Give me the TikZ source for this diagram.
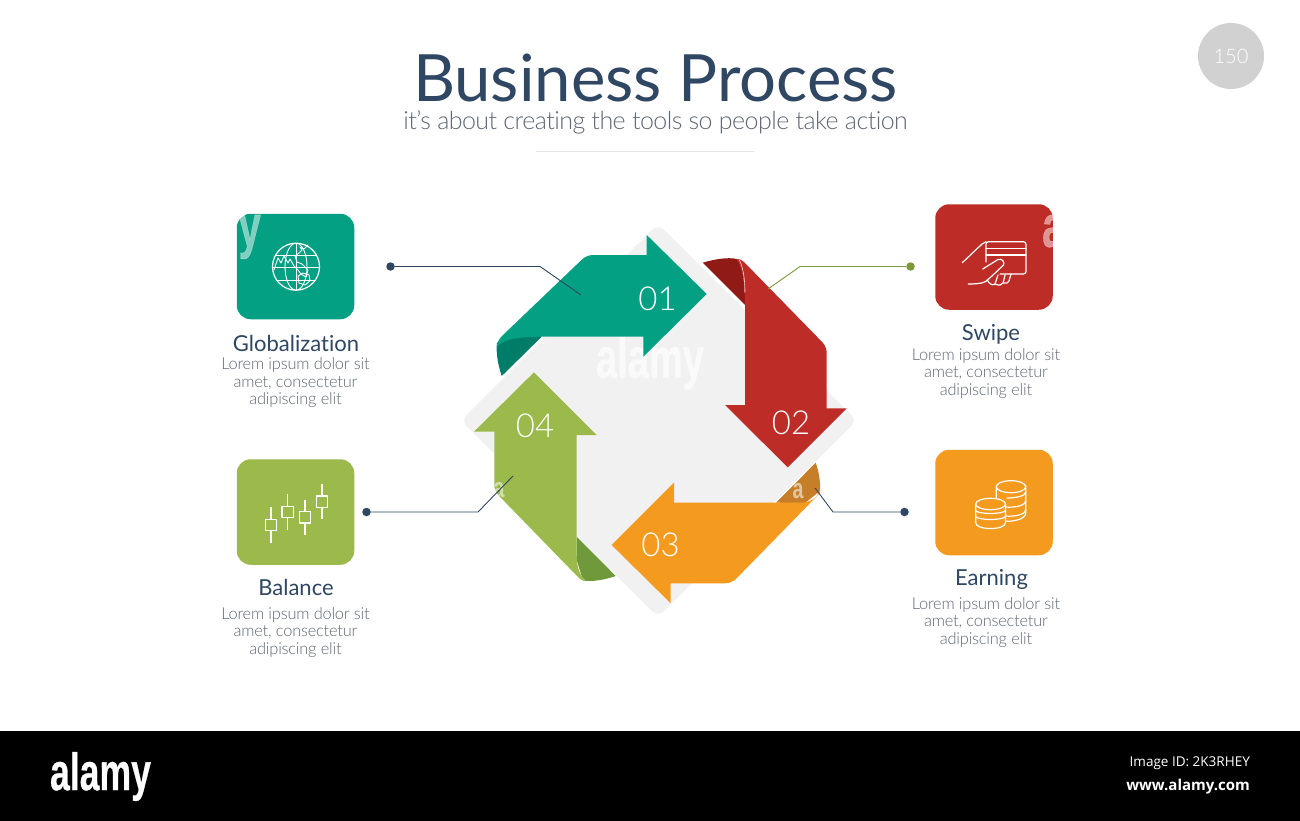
\documentclass[tikz,border=0pt]{standalone}
\usepackage{fontspec}
\setmainfont[Ligatures=NoCommon]{Lato}
\newfontfamily\latolight[Ligatures=NoCommon,LetterSpace=-2.2]{Lato Light}
\newfontfamily\latobody[Ligatures=NoCommon,LetterSpace=-1.3]{Lato Light}
\newfontfamily\latonum[Ligatures=NoCommon]{Lato Light}
\newfontfamily\opensans{Open Sans}
\newfontfamily\wmfont{Liberation Sans}
\newfontfamily\wmheavy[FakeBold=0.6]{Liberation Sans Bold}
\definecolor{navy}{HTML}{2F4763}
\definecolor{bodygrey}{HTML}{5F6875}
\definecolor{teal1}{HTML}{04A084}
\definecolor{teal2}{HTML}{007D69}
\definecolor{red1}{HTML}{BD2C27}
\definecolor{red2}{HTML}{901A16}
\definecolor{orange1}{HTML}{F39A1F}
\definecolor{orange2}{HTML}{C67F28}
\definecolor{green1}{HTML}{9BBA4B}
\definecolor{green2}{HTML}{6F993B}
\definecolor{diamondgrey}{HTML}{F1F1F2}
\definecolor{olive}{HTML}{7A9A3C}
\tikzset{
  x=1pt,y=-1pt,
  iconbox/.style={rounded corners=14pt,minimum width=117.5pt,minimum height=105.5pt,inner sep=0pt,draw=none},
  headtext/.style={text=navy,font=\fontsize{22}{26}\selectfont,inner sep=0pt},
  bodytext/.style={text=bodygrey,font=\latobody\fontsize{16.4}{17.5}\selectfont,align=center,inner sep=0pt},
  numtext/.style={text=white,font=\latonum\fontsize{33}{36}\selectfont,inner sep=0pt},
  lead/.style={line width=0.9pt,navy},
  leaddot/.style={circle,fill=navy,minimum size=8.5pt,inner sep=0pt},
  ico/.style={draw=white,line width=1.2pt,line join=round,line cap=round},
  wm/.style={text=white,font=\wmfont\bfseries,inner sep=0pt},
}
\begin{document}
\begin{tikzpicture}
\useasboundingbox (0,0) rectangle (1300,821);
\fill[white] (0,0) rectangle (1300,821);
\fill[black] (0,731) rectangle (1300,821);

% header
\node[text=navy,font=\fontsize{65.2}{70}\selectfont,inner sep=0pt] (title) at (655.5,78) {Business Process};
\node[text=bodygrey,font=\latolight\fontsize{25}{30}\selectfont,inner sep=0pt] (subtitle) at (655.5,122.5) {it’s about creating the tools so people take action};
\draw[color=black!10,line width=1pt] (536,151.5) -- (754,151.5);
\node[circle,fill=black!18,minimum size=66pt,inner sep=0pt,text=white,font=\latonum\fontsize{20}{22}\selectfont] (page) at (1231,56) {150};

% central diamond
\fill[diamondgrey,rounded corners=8pt] (658,224) -- (857,420.5) -- (658,617) -- (461,420.5) -- cycle;

% watermark centre
\node[wm,opacity=.65,font=\wmheavy\fontsize{57}{57}\selectfont,xscale=.668] (wmc) at (650,363) {alamy};

% teal
\fill[teal2] (541.7,336.7) -- (501.7,376) .. controls (497,362) and (496,350) .. (497,343) -- (520,325) -- cycle;
\fill[teal1] (706.7,294) -- (646.7,235) -- (646.7,255) [rounded corners=6pt] -- (586.7,255) [sharp corners] -- (503,335) .. controls (499,339) and (497,342) .. (497,347) .. controls (502,340) and (515,336.7) .. (541.7,336.7) -- (643.3,336.7) -- (643.3,356.7) -- cycle;

% red
\fill[red2] (702.7,262.7) .. controls (715,259) and (728,257) .. (737,259) .. controls (742,265) and (745,280) .. (745,305) -- cycle;
\fill[red1] (787.7,467.3) -- (725,405) -- (745,405) -- (745,305) .. controls (745,280) and (742,265) .. (736,259) .. controls (739,258) and (741,260) .. (744,262) [rounded corners=6pt] -- (826.7,346.7) [sharp corners] -- (826.7,408.3) -- (846.7,408.3) -- cycle;
\draw[white!80!red1,line width=.6pt] (739,259.5) .. controls (743,266) and (745,280) .. (745,292);

% orange
\fill[orange2] (776,502.7) -- (815.7,462.7) .. controls (819,472) and (820.5,482) .. (820,491) -- (805,503) -- cycle;
\fill[orange1] (611.7,545) -- (674,482.7) -- (674,502.7) -- (800,502.7) .. controls (810,502.7) and (817,498) .. (820,491) -- (820,493) [rounded corners=6pt] -- (731.7,583.3) [sharp corners] -- (670.7,583.3) -- (670.7,603.3) -- cycle;

% green
\fill[green2] (576.7,536.7) -- (615.7,576) .. controls (604,580) and (592,582) .. (583,580.5) -- (576.7,560) -- cycle;
\fill[green1] (534,372.3) -- (596.7,435) -- (576.7,435) -- (576.7,555) .. controls (576.7,568) and (580,576) .. (586,580.5) .. controls (583,581) and (581,580) .. (578,577) [rounded corners=6pt] -- (494.3,491) [sharp corners] -- (494.3,431.7) -- (474,431.7) -- cycle;

% numbers
\node[numtext] (n1) at (657.5,299) {01};
\node[numtext] (n2) at (791,423) {02};
\node[numtext] (n3) at (660.5,545) {03};
\node[numtext] (n4) at (535,426) {04};

% small watermark fragments in the ring
\begin{scope}
\clip (776,470) rectangle (812,510);
\node[wm,opacity=.55,font=\wmfont\bfseries\fontsize{28}{28}\selectfont,xscale=.7] (wmo) at (798,491) {a};
\end{scope}
\begin{scope}
\clip (494.3,470) rectangle (512,510);
\node[wm,opacity=.55,font=\wmfont\bfseries\fontsize{28}{28}\selectfont,xscale=.7] (wmg) at (499,490) {a};
\end{scope}

% leader lines
\node[leaddot] (d1) at (390.5,266.5) {};
\coordinate (b1) at (540,266.5); \coordinate (e1) at (581,295);
\draw[lead] (d1) -- (b1) -- (e1);
\node[leaddot,fill=olive] (d2) at (910.5,266.5) {};
\coordinate (b2) at (800,266.5); \coordinate (e2) at (768,289);
\draw[lead,olive] (d2) -- (b2) -- (e2);
\node[leaddot] (d3) at (904.5,512) {};
\coordinate (b3) at (833,512); \coordinate (e3) at (815,488);
\draw[lead] (d3) -- (b3) -- (e3);
\node[leaddot] (d4) at (366.5,512) {};
\coordinate (b4) at (478,512); \coordinate (e4) at (513,476);
\draw[lead] (d4) -- (b4) -- (e4);

% icon boxes
\node[iconbox,fill=teal1] (boxa) at (295.5,266.5) {};
\node[iconbox,fill=green1] (boxd) at (295.5,512) {};
\node[iconbox,fill=red1] (boxb) at (994,257) {};
\node[iconbox,fill=orange1] (boxc) at (994,502.5) {};

% box watermark fragments
\begin{scope}
\clip (237,214) rectangle (261,262);
\node[wm,opacity=.5,font=\wmheavy\fontsize{60}{60}\selectfont,xscale=.67,anchor=east] (wma) at (261,237) {y};
\end{scope}
\begin{scope}
\clip (1042,212) rectangle (1053,252);
\node[wm,opacity=.5,font=\wmheavy\fontsize{60}{60}\selectfont,xscale=.67,anchor=west] (wmb) at (1042,231) {a};
\end{scope}

% globe icon
\begin{scope}[ico]
\draw (296,266.7) circle (23.5);
\begin{scope}
\clip (296,266.7) circle (23.5);
\draw[line width=.9pt] (296,266.7) ellipse (11 and 23.5);
\draw[line width=.9pt] (296,243) -- (296,290);
\draw[line width=.9pt] (272,255) -- (320,255) (272,267.5) -- (320,267.5) (272,280) -- (320,280);
\end{scope}
\draw[line width=.9pt] (274,270) -- (278,258) -- (281,263) -- (284,256) -- (288,263) -- (290,259) -- (294,266) -- (298,270) -- (301,274) -- (306,277) -- (308,270) -- (302,264) -- (297,262) -- (295,256) -- (299,253) -- (302,250) -- (300,247) -- (304,249) -- (308,245);
\draw[line width=.9pt] (298,276) -- (303,273) -- (309,275) -- (310,281) -- (305,285) -- (299,283) -- cycle;
\end{scope}

% candlestick icon
\begin{scope}[ico,line cap=butt]
\draw (271,507.3) -- (271,519.3) (271,530.7) -- (271,542.7);
\draw (265.3,519.3) rectangle (276.7,530.7);
\draw (287.7,494.3) -- (287.7,506.3) (287.7,517.7) -- (287.7,530);
\draw (282,506.3) rectangle (293.4,517.7);
\draw (305,500) -- (305,511.6) (305,523) -- (305,535);
\draw (299.3,511.6) rectangle (310.7,523);
\draw (322,484.3) -- (322,496) (322,507.4) -- (322,519.3);
\draw (316.3,496) rectangle (327.7,507.4);
\end{scope}

% card icon
\begin{scope}[ico]
\draw[rounded corners=2.5pt] (986,262) -- (986,241.7) -- (1026,241.7) -- (1026,274) -- (1000,274);
\draw (986,248.3) -- (1026,248.3) (986,255) -- (1026,255);
\draw (962.3,262.7) -- (981.7,244.3) -- (986,241.7);
\draw (982.7,269) -- (998,259.5) .. controls (1002,258) and (1005,262) .. (1003.5,265) -- (992,276) -- (987.3,280) .. controls (986,282) and (982,284) .. (968.3,284);
\draw (987.3,280) .. controls (989,284) and (993,286) .. (995,284) -- (998,275);
\draw (995,284) .. controls (999,286) and (1002,285) .. (1003,283) -- (1005,275);
\draw (1003,283) .. controls (1006,284) and (1008,283) .. (1009,281) -- (1011,274);
\end{scope}

% coins icon
\begin{scope}[ico]
\draw (996.3,486.7) -- (996.3,511) (1025.7,486.7) -- (1025.7,513) .. controls (1025.7,520) and (1010,522) .. (1005.5,521);
\draw (1011,486.7) ellipse (14.7 and 6);
\draw (1007,498) .. controls (1016,498) and (1025.7,496) .. (1025.7,492);
\draw (1005,507) .. controls (1016,508) and (1025.7,505) .. (1025.7,501);
\draw (1005,516) .. controls (1016,517) and (1025.7,514) .. (1025.7,510);
\draw[fill=orange1] (975.7,504) -- (975.7,522.5) .. controls (975.7,526.5) and (982,528.5) .. (990.7,528.5) .. controls (999,528.5) and (1005.5,526.5) .. (1005.5,522.5) -- (1005.5,504);
\draw[fill=orange1] (990.6,504) ellipse (14.9 and 5.7);
\draw (975.7,510.5) .. controls (978,514.5) and (1003,514.5) .. (1005.5,510.5);
\draw (975.7,516.5) .. controls (978,520.5) and (1003,520.5) .. (1005.5,516.5);
\end{scope}

% labels
\node[headtext] (la) at (296,343.5) {Globalization};
\node[bodytext] (ta) at (295.5,383) {Lorem ipsum dolor sit\\amet, consectetur\\adipiscing elit};
\node[headtext] (ld) at (296,587.5) {Balance};
\node[bodytext] (td) at (295.5,632.5) {Lorem ipsum dolor sit\\amet, consectetur\\adipiscing elit};
\node[headtext] (lb) at (991,334.5) {Swipe};
\node[bodytext] (tb) at (986,373.5) {Lorem ipsum dolor sit\\amet, consectetur\\adipiscing elit};
\node[headtext] (lc) at (991.5,579.5) {Earning};
\node[bodytext] (tc) at (986,622.5) {Lorem ipsum dolor sit\\amet, consectetur\\adipiscing elit};

% footer
\node[wm,font=\wmheavy\fontsize{52.5}{52.5}\selectfont,xscale=.678] (logo) at (100.5,776.5) {alamy};
\node[text=white,font=\opensans\fontsize{13.5}{15}\selectfont,anchor=east,inner sep=0pt] (imgid) at (1250,763) {Image ID: 2K3RHEY};
\node[text=white,font=\opensans\bfseries\fontsize{15}{17}\selectfont,anchor=east,inner sep=0pt] (www) at (1250,787) {www.alamy.com};
\end{tikzpicture}
\end{document}
